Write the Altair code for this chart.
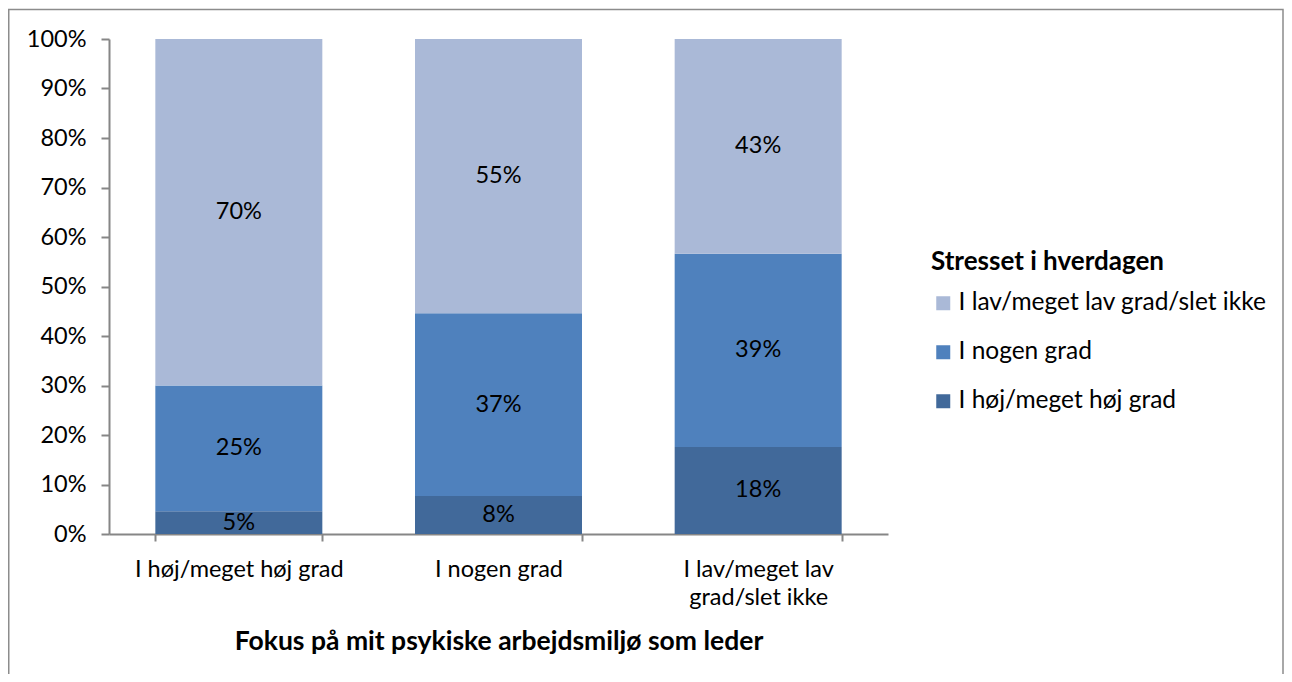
import altair as alt
import pandas as pd

# Categories on the x axis (Fokus på mit psykiske arbejdsmiljø som leder)
categories = ["I høj/meget høj grad", "I nogen grad", "I lav/meget lav grad/slet ikke"]
# Series (Stresset i hverdagen), listed from bottom of the stack to the top
series = ["I høj/meget høj grad", "I nogen grad", "I lav/meget lav grad/slet ikke"]
# Percentages per series, one value per category
val_high = [4.6, 7.7, 17.6]
val_some = [25.4, 36.9, 39.0]
val_low = [70.0, 55.4, 43.4]

series_values = [val_high, val_some, val_low]
legend_order = ["I lav/meget lav grad/slet ikke", "I nogen grad", "I høj/meget høj grad"]
colors = ["#AAB9D7", "#4F81BD", "#41699A"]

rows = []
for si, (s, vals) in enumerate(zip(series, series_values)):
    for c, v in zip(categories, vals):
        rows.append({"cat": c, "serie": s, "value": v, "stackorder": si})
df = pd.DataFrame(rows)

FONT = "Lato"

base = alt.Chart(df).transform_stack(
    stack="value",
    groupby=["cat"],
    sort=[alt.SortField("stackorder", order="ascending")],
    as_=["y0", "y1"],
).transform_calculate(
    mid="(datum.y0 + datum.y1) / 2",
    label="format(datum.value, '.0f') + '%'",
)

xenc = alt.X(
    "cat:N",
    sort=categories,
    scale=alt.Scale(paddingInner=0.357, paddingOuter=0.1785),
    axis=alt.Axis(
        title="Fokus på mit psykiske arbejdsmiljø som leder",
        labelAngle=0,
        tickBand="extent",
        tickSize=7,
        tickWidth=2,
        tickColor="#868686",
        domainColor="#868686",
        domainWidth=2,
        labelFont=FONT,
        labelFontSize=23.5,
        labelColor="#000000",
        labelPadding=16,
        labelLineHeight=28,
        labelLimit=400,
        labelExpr="datum.value == 'I lav/meget lav grad/slet ikke' ? ['I lav/meget lav', 'grad/slet ikke'] : datum.value",
        titleFont=FONT,
        titleFontSize=26.5,
        titleFontWeight="bold",
        titleColor="#000000",
        titleBaseline="alphabetic",
        titleY=115,
    ),
)

bars = base.mark_bar(size=167).encode(
    x=xenc,
    y=alt.Y(
        "y0:Q",
        scale=alt.Scale(domain=[0, 100], nice=False),
        axis=alt.Axis(
            title=None,
            values=list(range(0, 101, 10)),
            labelExpr="datum.value + '%'",
            grid=False,
            tickSize=8,
            tickWidth=2,
            tickColor="#868686",
            domainColor="#868686",
            domainWidth=2,
            labelFont=FONT,
            labelFontSize=23.5,
            labelColor="#000000",
            labelPadding=15,
        ),
    ),
    y2="y1:Q",
    color=alt.Color(
        "serie:N",
        scale=alt.Scale(domain=legend_order, range=colors),
        legend=alt.Legend(
            title="Stresset i hverdagen",
            orient="none",
            legendX=822,
            legendY=210,
            padding=0,
            symbolType="square",
            symbolSize=196,
            symbolStrokeWidth=0,
            labelFont=FONT,
            labelFontSize=24.5,
            labelColor="#000000",
            labelOffset=3,
            labelLimit=400,
            rowPadding=24,
            titleFont=FONT,
            titleFontSize=26,
            titleFontWeight="bold",
            titleColor="#000000",
            titlePadding=16,
            titleLimit=400,
        ),
    ),
)

texts = base.mark_text(font=FONT, fontSize=23.5, color="#000000", baseline="middle").encode(
    x=alt.X("cat:N", sort=categories),
    y=alt.Y("mid:Q"),
    text="label:N",
)

frame = alt.Chart(pd.DataFrame({"k": [0]})).mark_rect(
    filled=False, stroke="#8C8C8C", strokeWidth=1.5
).encode(
    x=alt.value(-100.25),
    x2=alt.value(1174),
    y=alt.value(-29.5),
    y2=alt.value(720),
)

chart = alt.layer(frame, bars, texts).properties(
    width=779,
    height=495,
    autosize=alt.AutoSizeParams(type="none"),
    padding={"left": 101, "top": 31, "right": 396, "bottom": 140},
).configure_view(stroke=None)

chart.save("out.html", embed_options={"renderer": "svg", "actions": False})
